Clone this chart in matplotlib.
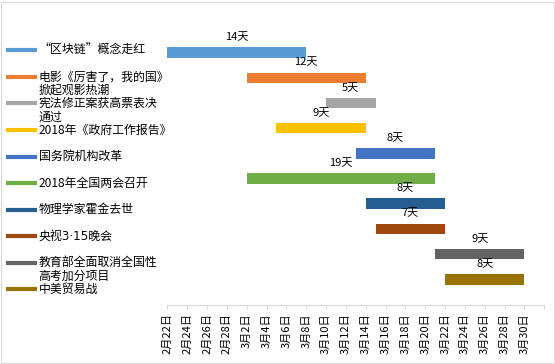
# Gantt style chart of hot news events, Feb-Mar 2018

import matplotlib
matplotlib.use("Agg")
import matplotlib.pyplot as plt
import pandas as pd
from matplotlib.lines import Line2D
from matplotlib.patches import Rectangle
from matplotlib.transforms import ScaledTranslation

plt.rcParams["font.family"] = ["Noto Sans CJK SC", "DejaVu Sans"]

events = [
    "“区块链”概念走红",
    "电影《厉害了，我的国》\n掀起观影热潮",
    "宪法修正案获高票表决\n通过",
    "2018年《政府工作报告》",
    "国务院机构改革",
    "2018年全国两会召开",
    "物理学家霍金去世",
    "央视3·15晚会",
    "教育部全面取消全国性\n高考加分项目",
    "中美贸易战",
]
start_dates = [
    "2018-02-22", "2018-03-02", "2018-03-10", "2018-03-05", "2018-03-13",
    "2018-03-02", "2018-03-14", "2018-03-15", "2018-03-21", "2018-03-22",
]
durations = [14, 12, 5, 9, 8, 19, 8, 7, 9, 8]
colors = [
    "#5B9BD5", "#ED7D31", "#A5A5A5", "#FFC000", "#4472C4",
    "#70AD47", "#255E91", "#9E480E", "#636363", "#997300",
]
tick_labels = [
    "2月22日", "2月24日", "2月26日", "2月28日", "3月2日", "3月4日", "3月6日",
    "3月8日", "3月10日", "3月12日", "3月14日", "3月16日", "3月18日", "3月20日",
    "3月22日", "3月24日", "3月26日", "3月28日", "3月30日",
]

origin = pd.Timestamp("2018-02-22")
offsets = [(pd.Timestamp(d) - origin).days for d in start_dates]

W, H = 555, 364
fig = plt.figure(figsize=(W / 100, H / 100), dpi=100)
ax = fig.add_axes([167.3 / W, 1 - 305.3 / H, 377 / W, (305.3 - 15) / H])

ypos = list(range(len(events)))
ax.barh(ypos, durations, left=offsets, height=0.42, color=colors)

for y, left, dur in zip(ypos, offsets, durations):
    ax.text(left + dur / 2, y - 0.61, "{}天".format(dur),
            ha="center", va="center", fontsize=8)

ax.set_xlim(0, 38)
ax.set_ylim(10.036, -1.498)
ax.set_yticks([])
ax.set_xticks(range(0, 39, 2))
ax.set_xticklabels(tick_labels + [""], rotation=90, fontsize=8)
for lab in ax.get_xticklabels():
    lab.set_transform(lab.get_transform() + ScaledTranslation(0.05, 0, fig.dpi_scale_trans))
ax.tick_params(axis="x", length=3, width=0.75, color="#D9D9D9", pad=2.7)
for side in ["left", "top", "right"]:
    ax.spines[side].set_visible(False)
ax.spines["bottom"].set_color("#D9D9D9")
ax.spines["bottom"].set_linewidth(0.75)

# legend drawn by hand on the left
for i, (name, color) in enumerate(zip(events, colors)):
    y_px = 50.3 + 26.55 * i
    fig.add_artist(Line2D([6 / W, 37 / W], [1 - y_px / H] * 2, color=color,
                          linewidth=3, solid_capstyle="butt"))
    for j, line in enumerate(name.split("\n")):
        # narrow middle dot: let DejaVu draw it, CJK falls through to Noto
        fam = ["DejaVu Sans", "Noto Sans CJK SC"] if "·" in line else None
        fig.text(38.5 / W, 1 - (y_px + 13.5 * j) / H, line,
                 fontsize=8.6, ha="left", va="center", family=fam)

# chart area border
fig.add_artist(Rectangle((0.5 / W, 1.5 / H), 553 / W, 361 / H, transform=fig.transFigure,
                         fill=False, edgecolor="#D9D9D9", linewidth=0.75))

fig.savefig("out.png", dpi=100)
